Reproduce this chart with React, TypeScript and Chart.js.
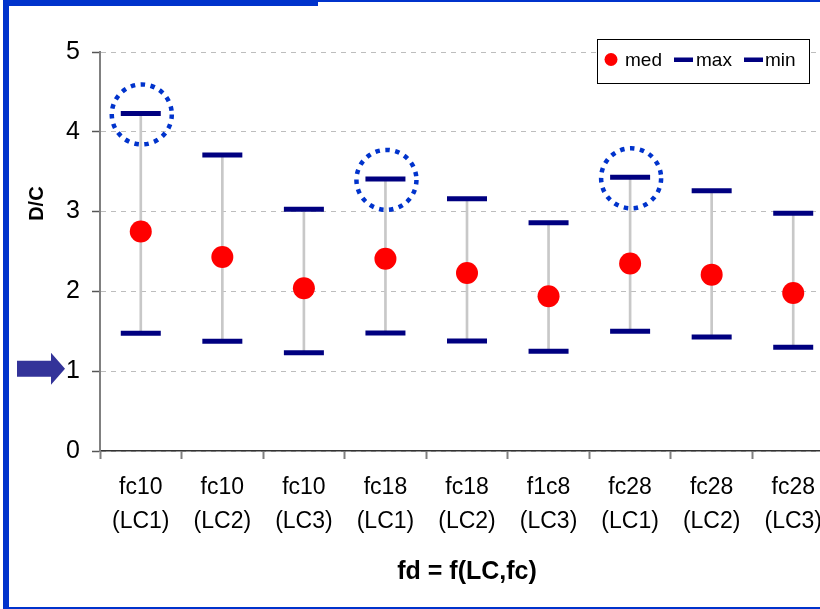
import React, { useEffect, useRef } from "react";
import { Chart, registerables } from "chart.js";
Chart.register(...registerables);

const categories: string[][] = [
  ["fc10", "(LC1)"], ["fc10", "(LC2)"], ["fc10", "(LC3)"],
  ["fc18", "(LC1)"], ["fc18", "(LC2)"], ["f1c8", "(LC3)"],
  ["fc28", "(LC1)"], ["fc28", "(LC2)"], ["fc28", "(LC3)"],
];
const medValues = [2.75, 2.43, 2.04, 2.41, 2.23, 1.94, 2.35, 2.21, 1.98];
const maxValues = [4.23, 3.71, 3.03, 3.41, 3.16, 2.86, 3.43, 3.26, 2.98];
const minValues = [1.475, 1.375, 1.23, 1.48, 1.38, 1.25, 1.5, 1.43, 1.3];
const yTickValues = [0, 1, 2, 3, 4, 5];
const highlightedIndices = [0, 3, 6];
const arrowValue = 1;
const legendLabels = ["med", "max", "min"];
const xTitle = "fd = f(LC,fc)";
const yTitle = "D/C";

const FONT = "'Liberation Sans', Arial, sans-serif";
const BLUE = "#0033CC";
const NAVY = "#000080";
const RED = "#FF0000";

const overlayPlugin = {
  id: "overlay",
  afterDatasetsDraw(chart: any) {
    const ctx = chart.ctx;
    const xs = chart.scales.x;
    const ys = chart.scales.y;
    ctx.save();
    ctx.strokeStyle = BLUE;
    ctx.lineWidth = 4.5;
    ctx.setLineDash([4.5, 5.5]);
    highlightedIndices.forEach((i) => {
      const cx = xs.getPixelForValue(i);
      const cy = ys.getPixelForValue(maxValues[i]);
      ctx.beginPath();
      ctx.arc(cx + 1, cy + 1, 30, 0, Math.PI * 2);
      ctx.stroke();
    });
    ctx.restore();
  },
  afterDraw(chart: any) {
    const ctx = chart.ctx;
    const ys = chart.scales.y;
    ctx.save();
    ctx.translate(37, ys.getPixelForValue(3.1));
    ctx.rotate(-Math.PI / 2);
    ctx.font = `bold 20px ${FONT}`;
    ctx.fillStyle = "#000";
    ctx.textAlign = "center";
    ctx.textBaseline = "middle";
    ctx.fillText(yTitle, 0, 0);
    ctx.restore();

    ctx.save();
    const ay = ys.getPixelForValue(arrowValue) - 2.5;
    ctx.fillStyle = "#333399";
    ctx.beginPath();
    ctx.moveTo(17, ay - 8);
    ctx.lineTo(51, ay - 8);
    ctx.lineTo(51, ay - 16);
    ctx.lineTo(65, ay);
    ctx.lineTo(51, ay + 16);
    ctx.lineTo(51, ay + 8);
    ctx.lineTo(17, ay + 8);
    ctx.closePath();
    ctx.fill();
    ctx.restore();

    ctx.save();
    const bx = 597, by = 39, bw = 212, bh = 44;
    ctx.fillStyle = "#fff";
    ctx.fillRect(bx, by, bw, bh);
    ctx.strokeStyle = "#000";
    ctx.lineWidth = 1;
    ctx.strokeRect(bx + 0.5, by + 0.5, bw, bh);
    const cy = 59.5;
    ctx.fillStyle = RED;
    ctx.beginPath();
    ctx.arc(611, cy, 6.5, 0, Math.PI * 2);
    ctx.fill();
    ctx.fillStyle = NAVY;
    ctx.fillRect(674, cy - 2, 19, 4.5);
    ctx.fillRect(744, cy - 2, 19, 4.5);
    ctx.fillStyle = "#000";
    ctx.font = `19px ${FONT}`;
    ctx.textBaseline = "alphabetic";
    ctx.textAlign = "left";
    ctx.fillText(legendLabels[0], 625, 65.5);
    ctx.fillText(legendLabels[1], 696, 65.5);
    ctx.fillText(legendLabels[2], 765, 65.5);
    ctx.restore();
  },
};

export default function App() {
  const ref = useRef<HTMLCanvasElement | null>(null);
  useEffect(() => {
    if (!ref.current) return;
    const chart = new Chart(ref.current, {
      data: {
        labels: categories,
        datasets: [
          {
            type: "bar",
            label: "range",
            data: minValues.map((m, i) => [m, maxValues[i]]),
            backgroundColor: "#C8C8C8",
            barThickness: 2,
            order: 5,
          } as any,
          {
            type: "line",
            label: "max",
            data: maxValues,
            showLine: false,
            pointStyle: "line",
            pointRadius: 20,
            pointBorderWidth: 5,
            pointBorderColor: NAVY,
            borderColor: NAVY,
            order: 2,
          },
          {
            type: "line",
            label: "min",
            data: minValues,
            showLine: false,
            pointStyle: "line",
            pointRadius: 20,
            pointBorderWidth: 5,
            pointBorderColor: NAVY,
            borderColor: NAVY,
            order: 2,
          },
          {
            type: "line",
            label: "med",
            data: medValues,
            showLine: false,
            pointStyle: "circle",
            pointRadius: 11,
            pointBorderWidth: 0,
            pointBackgroundColor: RED,
            borderColor: RED,
            order: 1,
          },
        ],
      },
      options: {
        animation: false,
        responsive: false,
        devicePixelRatio: 1,
        layout: { padding: { left: 0, top: 52, right: 46, bottom: 0 } },
        plugins: { legend: { display: false }, tooltip: { enabled: false } },
        scales: {
          x: {
            type: "category",
            offset: true,
            grid: {
              display: true,
              offset: true,
              drawOnChartArea: false,
              drawTicks: true,
              tickLength: 8,
              tickColor: "#808080",
              tickWidth: 2,
            },
            border: { display: true, color: "#333333", width: 1.5 },
            ticks: {
              autoSkip: false,
              maxRotation: 0,
              minRotation: 0,
              padding: 12,
              color: "#000",
              font: { family: FONT, size: 23, lineHeight: 1.48 },
            },
            title: {
              display: true,
              text: xTitle,
              color: "#000",
              font: { family: FONT, size: 25, weight: "bold" },
              padding: { top: 0, bottom: 22 },
            },
            afterFit: (s: any) => {
              s.height = 158;
            },
          },
          y: {
            type: "linear",
            min: 0,
            max: 5,
            afterBuildTicks: (s: any) => {
              s.ticks = yTickValues.map((v) => ({ value: v }));
            },
            grid: {
              color: "#BDBDBD",
              lineWidth: 1,
              drawTicks: true,
              tickLength: 8,
              tickColor: "#555555",
              tickWidth: 1.5,
            },
            border: { display: true, color: "#808080", width: 2, dash: [5, 5] },
            ticks: {
              padding: 12,
              color: "#000",
              font: { family: FONT, size: 25 },
            },
            afterFit: (s: any) => {
              s.width = 100;
            },
          },
        },
      },
      plugins: [overlayPlugin],
    } as any);
    return () => chart.destroy();
  }, []);

  return (
    <div
      style={{
        position: "fixed",
        left: 0,
        top: 0,
        width: 820,
        height: 609,
        overflow: "hidden",
        background: "#fff",
      }}
    >
      <canvas
        ref={ref}
        width={880}
        height={609}
        style={{ position: "absolute", left: 0, top: 0, width: 880, height: 609 }}
      />
      <div style={{ position: "absolute", left: 3, top: 0, width: 315, height: 6, background: BLUE }} />
      <div style={{ position: "absolute", left: 318, top: 0, width: 502, height: 2, background: BLUE }} />
      <div style={{ position: "absolute", left: 3, top: 0, width: 6, height: 609, background: BLUE }} />
      <div style={{ position: "absolute", left: 3, top: 607, width: 817, height: 2, background: BLUE }} />
    </div>
  );
}
